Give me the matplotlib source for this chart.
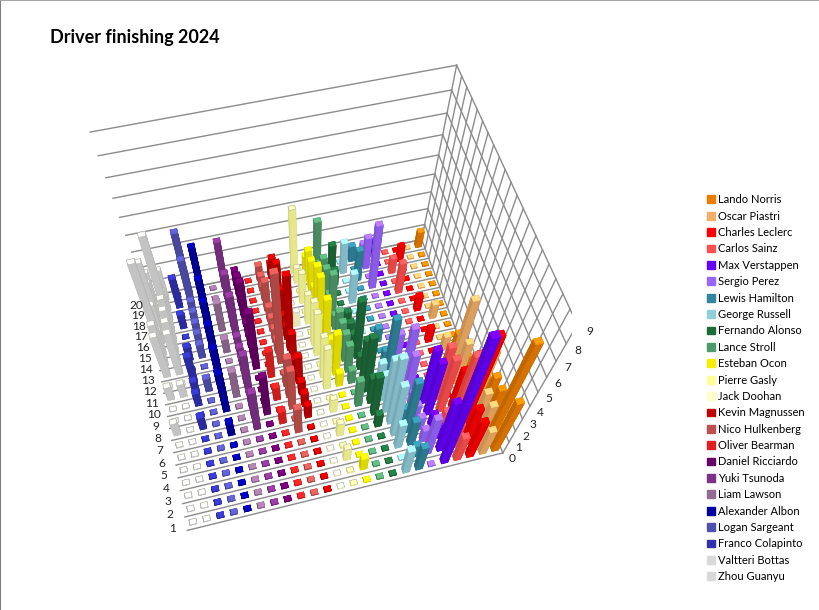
import numpy as np
import matplotlib
matplotlib.use("Agg")
import matplotlib.pyplot as plt
from matplotlib.lines import Line2D
from matplotlib.patches import Patch
from matplotlib.colors import to_rgb
from mpl_toolkits.mplot3d import proj3d

plt.rcParams['font.family'] = ['Lato', 'DejaVu Sans']

titulo = "Driver finishing 2024"
pilotos = ["Lando Norris", "Oscar Piastri", "Charles Leclerc", "Carlos Sainz", "Max Verstappen", "Sergio Perez",
           "Lewis Hamilton", "George Russell", "Fernando Alonso", "Lance Stroll", "Esteban Ocon", "Pierre Gasly",
           "Jack Doohan", "Kevin Magnussen", "Nico Hulkenberg", "Oliver Bearman", "Daniel Ricciardo", "Yuki Tsunoda",
           "Liam Lawson", "Alexander Albon", "Logan Sargeant", "Franco Colapinto", "Valtteri Bottas", "Zhou Guanyu"]
cores = ["#ED7D00", "#F4B066", "#FF0000", "#FF5050", "#6600FF", "#9966FF", "#31859C", "#92CDDC", "#1E6B3A", "#4F9A6A",
         "#F5EE00", "#FFFF99", "#FFFFCC", "#C00000", "#C0504D", "#E02020", "#660066", "#7E3287", "#946B94", "#0000A0",
         "#5050B0", "#3030B0", "#D9D9D9", "#D9D9D9"]

# contagem por posicao 1..20
norris     = [4,7,3,3,2,2,0,1,0,1,0,0,0,0,0,0,0,0,0,1]
piastri    = [2,3,3,5,1,0,3,5,0,1,0,0,1,0,0,0,0,0,0,0]
leclerc    = [3,3,7,5,3,0,0,0,0,0,1,0,0,1,0,0,0,0,1,0]
sainz      = [2,2,6,1,4,4,1,0,0,0,0,0,0,0,0,2,0,1,0,0]
verstappen = [9,4,1,1,4,4,0,0,0,0,0,0,0,0,0,0,0,0,0,1]
perez      = [0,3,1,1,1,1,3,4,0,2,1,0,0,0,0,0,4,0,2,1]
hamilton   = [2,1,2,4,1,1,2,1,4,1,0,1,0,0,0,0,0,2,0,1]
russell    = [2,0,2,4,5,4,2,2,0,0,0,0,0,0,0,2,0,0,2,0]
alonso     = [0,0,0,0,1,3,2,4,3,1,4,1,1,1,0,0,0,1,2,0]
stroll     = [0,0,0,0,0,0,2,0,1,2,2,2,2,1,3,1,2,2,1,3]
ocon       = [0,1,0,0,0,0,0,0,1,3,0,1,3,1,3,3,1,2,2,1]
gasly      = [0,0,1,0,1,0,1,0,3,3,0,3,3,0,2,0,2,0,1,4]
doohan     = [0,0,0,0,0,0,0,0,0,0,0,0,0,0,1,0,0,0,0,0]
magnussen  = [0,0,0,0,0,0,1,1,1,2,1,2,5,1,1,2,3,1,2,1]
hulkenberg = [0,0,0,0,0,2,0,3,3,1,0,6,1,1,1,1,2,1,1,1]
bearman    = [0,0,0,0,0,0,1,0,1,0,2,0,0,0,0,0,0,0,0,0]
ricciardo  = [0,0,0,0,0,0,0,3,0,0,0,4,1,1,1,3,1,2,1,1]
tsunoda    = [0,0,0,0,0,0,3,2,1,3,1,1,1,1,3,1,3,1,0,3]
lawson     = [0,0,0,0,0,0,0,0,0,2,0,0,0,1,0,2,0,0,0,0]
albon      = [0,0,0,0,0,0,1,0,3,1,3,1,3,1,3,1,3,1,1,3]
sargeant   = [0,0,0,0,0,0,0,0,0,0,1,0,0,1,1,1,1,1,3,4]
colapinto  = [0,0,0,0,0,0,0,1,0,1,1,2,0,1,0,0,1,0,2,0]
bottas     = [0,0,0,0,0,0,0,0,0,0,1,0,3,3,3,3,6,2,1,2]
zhou       = [0,0,0,0,0,0,0,1,0,0,1,0,3,3,6,1,2,4,2,2]
valores = [norris, piastri, leclerc, sainz, verstappen, perez, hamilton, russell, alonso, stroll, ocon, gasly,
           doohan, magnussen, hulkenberg, bearman, ricciardo, tsunoda, lawson, albon, sargeant, colapinto, bottas, zhou]

n_col = len(pilotos)
n_lin = 20
z_max = 9

fig = plt.figure(figsize=(8.19, 6.10), dpi=100, facecolor="white")
ax = fig.add_axes([0, 0, 1, 1], projection="3d", computed_zorder=False)
ax.view_init(60.1863, -104.3577, -0.3353)
ax.set_proj_type("persp", focal_length=0.2895)
ax.set_box_aspect((1, 0.8343, 0.8389))

# camera ajustada aos cantos do grafico original
s, cx, cy = 2840.04, 316.15, 307.82
x0, x1 = ax.viewLim.intervalx
y0, y1 = ax.viewLim.intervaly
esq = cx + s * x0
base = 610 - (cy - s * y0)
ax.set_position([esq / 819, base / 610, s * (x1 - x0) / 819, s * (y1 - y0) / 610])
ax.set_axis_off()

linha = "#8C8C8C"
for k in range(z_max + 1):
    ax.plot([0, n_col], [n_lin, n_lin], [k, k], color=linha, lw=1, zorder=1)
    ax.plot([n_col, n_col], [0, n_lin], [k, k], color=linha, lw=1, zorder=1)
for j in range(n_lin + 1):
    ax.plot([0, n_col], [j, j], [0, 0], color=linha, lw=1, zorder=1)
    ax.plot([n_col, n_col], [j, j], [0, z_max], color=linha, lw=1, zorder=1)


def faces(c):
    r = np.array(to_rgb(c))
    topo = np.minimum(r * 1.25, 1)
    frente = r * 0.9
    lado = r * 0.82
    return [tuple(v) for v in (r, topo, frente, frente, lado, lado)]


larg, prof = 0.5, 0.4
col_cam = 5
ordem = sorted(((j, i) for i in range(n_col) for j in range(n_lin)),
               key=lambda t: (-t[0], -abs(t[1] - col_cam)))
for z, (j, i) in enumerate(ordem):
    serie = n_col - 1 - i
    v = valores[serie][j]
    c = cores[serie]
    f = faces(c)
    # so as series claras tem contorno no topo
    borda = ["#B5B5A5"] * 2 + f[2:] if np.mean(to_rgb(c)) > 0.8 else f
    ax.bar3d(i + (1 - larg) / 2, j + (1 - prof) / 2, 0, larg, prof, max(v, 0.03), color=f, shade=False,
             edgecolors=borda, linewidth=0.4, zorder=z + 2)

ax.set_xlim(0, n_col)
ax.set_ylim(0, n_lin)
ax.set_zlim(0, z_max)
ax.autoscale(False)
ax.set_xticks([])
ax.set_yticks([])
ax.set_zticks([])


def rotulo(x, y, z, txt, ha):
    # texto 2D no ponto projetado
    px, py, _ = proj3d.proj_transform(x, y, z, ax.get_proj())
    ax.text2D(px, py, txt, transform=ax.transData, fontsize=8.6, ha=ha, va="center", color="#222222", zorder=1000)


for k in range(z_max + 1):
    rotulo(n_col + 0.3, -0.5, k, str(k), "left")
for j in range(n_lin):
    rotulo(-1.0, j + 0.4, 0, str(j + 1), "center")

fig.text(50 / 819, 1 - 37 / 610, titulo, fontsize=13, fontweight="bold", va="center", color="black")
fig.legend(handles=[Patch(color=c, label=p) for p, c in zip(pilotos, cores)], loc="upper left",
           bbox_to_anchor=(704.5 / 819, 1 - 192 / 610), frameon=False, fontsize=8, labelspacing=0.485,
           handlelength=0.7, handleheight=0.7, handletextpad=0.36, borderpad=0.2, borderaxespad=0)
fig.add_artist(Line2D([0, 0], [0, 1], color="#7F7F7F", lw=1.5))
fig.add_artist(Line2D([0, 1], [1, 1], color="#A6A6A6", lw=1.5))
fig.savefig("out.png", dpi=100)
